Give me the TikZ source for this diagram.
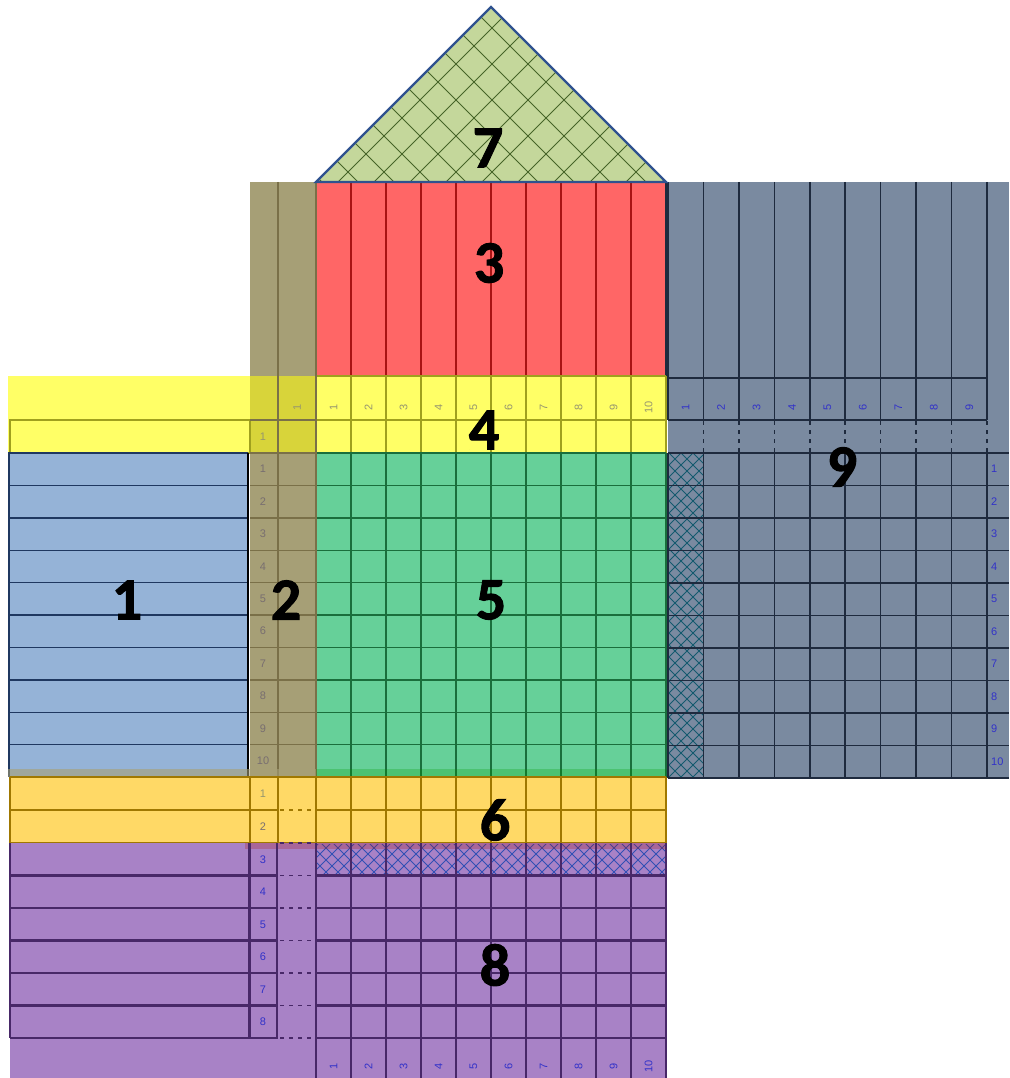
\documentclass[tikz,border=0pt]{standalone}
\usepackage{fontspec}
\setmainfont{Carlito}
\newfontfamily\numfont{Liberation Sans}
\newfontfamily\bigfont{Carlito}[BoldFeatures={FakeBold=1.6}]
\definecolor{rOneFill}{RGB}{149,179,215}
\definecolor{rOneLine}{RGB}{31,56,96}
\definecolor{rTwoFill}{RGB}{166,159,118}
\definecolor{rTwoLine}{RGB}{122,112,72}
\definecolor{rThreeFill}{RGB}{255,102,102}
\definecolor{rThreeLine}{RGB}{168,20,20}
\definecolor{rFourFill}{RGB}{255,255,102}
\definecolor{rFourDark}{RGB}{216,212,58}
\definecolor{rFourLine}{RGB}{160,160,30}
\definecolor{rFiveFill}{RGB}{102,208,153}
\definecolor{rFiveLine}{RGB}{26,110,60}
\definecolor{rSixFill}{RGB}{255,217,102}
\definecolor{rSixLine}{RGB}{160,120,0}
\definecolor{rSevenFill}{RGB}{196,215,155}
\definecolor{rSevenLine}{RGB}{47,82,143}
\definecolor{rSevenHatch}{RGB}{70,100,40}
\definecolor{rEightFill}{RGB}{168,130,198}
\definecolor{rEightLine}{RGB}{72,40,104}
\definecolor{rEightHatch}{RGB}{50,80,180}
\definecolor{rNineFill}{RGB}{122,138,160}
\definecolor{rNineLine}{RGB}{30,42,62}
\definecolor{rNineHatch}{RGB}{20,90,110}
\definecolor{numBlue}{RGB}{50,50,200}
\definecolor{numGray}{RGB}{150,150,110}
\definecolor{numGrayB}{RGB}{120,110,112}
\tikzset{
  biglabel/.style={font=\bigfont\fontsize{60}{60}\selectfont\bfseries, text=black, inner sep=0pt},
  smallnum/.style={font=\numfont\fontsize{11}{11}\selectfont, inner sep=0pt},
  ln1/.style={draw=rOneLine, line width=1.4pt},
  ln2/.style={draw=rTwoLine, line width=1.4pt},
  ln3/.style={draw=rThreeLine, line width=1.4pt},
  ln4/.style={draw=rFourLine, line width=1.4pt},
  ln5/.style={draw=rFiveLine, line width=1.4pt},
  ln6/.style={draw=rSixLine, line width=2pt},
  ln8/.style={draw=rEightLine, line width=2.2pt},
  ln9/.style={draw=rNineLine, line width=1.5pt},
  dashline/.style={dash pattern=on 4pt off 5pt},
}
\begin{document}
\begin{tikzpicture}[x=1pt,y=-1pt]
\useasboundingbox (0,0) rectangle (1009,1078);

% ---------- region 9 ----------
\fill[rNineFill] (668,182) rectangle (1009,778);
\begin{scope}
  \clip (668,453) rectangle (703.4,778);
  \foreach \c in {-120,-108,...,264} \draw[rNineHatch, line width=0.9pt] ({\c+440},440) -- ({\c+790},790);
  \foreach \c in {1110,1122,...,1494} \draw[rNineHatch, line width=0.9pt] ({\c-440},440) -- ({\c-790},790);
\end{scope}
\foreach \i in {0,...,9} \draw[ln9] ({668+35.44*\i},182) -- ({668+35.44*\i},420);
\draw[ln9] (668,378) -- (987,378);
\draw[ln9] (668,420) -- (987,420);
\foreach \i in {1,...,9} \draw[ln9, dashline] ({668+35.44*\i},421) -- ({668+35.44*\i},453);
\foreach \i in {0,...,10} \draw[ln9] (668,{453+32.5*\i}) -- (1009,{453+32.5*\i});
\foreach \i in {0,...,9} \draw[ln9] ({668+35.44*\i},453) -- ({668+35.44*\i},778);
\foreach \i in {1,...,9} \node[smallnum, text=numBlue, rotate=90] (n9h\i) at ({685.7+35.44*(\i-1)},407) {\i};
\foreach \i in {1,...,10} \node[smallnum, text=numBlue, anchor=west] (n9r\i) at (991,{469.2+32.5*(\i-1)}) {\i};

% ---------- region 3 ----------
\fill[rThreeFill] (316,182) rectangle (666,376);
\foreach \i in {0,...,9} \draw[ln3] ({316+35*\i},182) -- ({316+35*\i},376);
\draw[rNineLine, line width=1.5pt] (666,182) -- (666,376);

% ---------- region 2 (column) ----------
\fill[rTwoFill] (250,182) rectangle (316,777);

% ---------- region 4 ----------
\fill[rFourFill] (8,376) rectangle (250,453);
\fill[rFourDark] (250,376) rectangle (316,453);
\fill[rFourFill] (316,376) rectangle (666,453);
\draw[ln4] (10,420) rectangle (250,453);
\foreach \y in {376,420,453} \draw[ln4] (316,\y) -- (666,\y);
\foreach \i in {0,...,10} \draw[ln4] ({316+35*\i},376) -- ({316+35*\i},453);
\foreach \i in {1,...,10} \node[smallnum, text=numGray, rotate=90] (n4h\i) at ({333.5+35*(\i-1)},407) {\i};

% ---------- region 1 ----------
\fill[rOneFill] (8,453) rectangle (248,777);
\foreach \i in {1,...,9} \draw[ln1] (8,{453+32.4*\i}) -- (248,{453+32.4*\i});
\draw[ln1] (9,453) -- (9,777);
\draw[ln1] (8,453) -- (248,453);
\draw[black, line width=1.5pt] (248,453) -- (248,777);

% ---------- region 5 ----------
\fill[rFiveFill] (316,453) rectangle (666,777);
\foreach \i in {0,...,10} \draw[ln5] (316,{453+32.4*\i}) -- (666,{453+32.4*\i});
\foreach \i in {0,...,10} \draw[ln5] ({316+35*\i},453) -- ({316+35*\i},777);

% ---------- region 2 lines ----------
\draw[ln2] (278,182) -- (278,777);
\draw[ln2] (316,182) -- (316,777);
\draw[ln2] (250,420) -- (316,420);
\foreach \i in {0,...,9} \draw[ln2] (250,{453+32.4*\i}) -- (316,{453+32.4*\i});
\foreach \i in {1,...,10} \node[smallnum, text=numGrayB] (n2r\i) at (263,{469.2+32.4*(\i-1)}) {\i};
\node[smallnum, text=numGray, rotate=90] (n2h) at (297,407) {1};
\node[smallnum, text=numGray] (n2a) at (263,437) {1};
\fill[rTwoFill, opacity=0.6] (8,769) rectangle (316,777);
\fill[green!60!black, opacity=0.25] (316,769) rectangle (666,777);

% ---------- region 6 ----------
\fill[rSixFill] (10,777) rectangle (666,843);
\draw[ln6] (10,777) -- (666,777);
\draw[ln6] (10,810) -- (278,810);
\draw[ln6] (316,810) -- (666,810);
\draw[ln6, dashline] (280,810) -- (316,810);
\draw[ln6] (10,843) -- (666,843);
\foreach \x in {10,250,278} \draw[ln6] (\x,777) -- (\x,843);
\foreach \i in {0,...,10} \draw[ln6] ({316+35*\i},777) -- ({316+35*\i},843);
\node[smallnum, text=numGray] (n6a) at (263,794) {1};
\node[smallnum, text=numGrayB] (n6b) at (263,827) {2};

% ---------- region 8 ----------
\fill[rEightFill] (10,843) rectangle (666,1078);
\begin{scope}
  \clip (316,844) rectangle (666,876);
  \foreach \c in {-570,-558,...,-160} \draw[rEightHatch, line width=0.9pt] ({\c+830},830) -- ({\c+890},890);
  \foreach \c in {1150,1162,...,1560} \draw[rEightHatch, line width=0.9pt] ({\c-830},830) -- ({\c-890},890);
\end{scope}
\fill[rThreeLine, opacity=0.25] (245,843) rectangle (666,849);
\foreach \i in {1,...,6} {
  \draw[ln8] (10,{843+32.5*\i}) -- (278,{843+32.5*\i});
  \draw[ln8] (316,{843+32.5*\i}) -- (666,{843+32.5*\i});
}
\foreach \i in {0,...,6} \draw[ln8, line width=1.5pt, dashline] (280,{843+32.5*\i}) -- (316,{843+32.5*\i});
\draw[ln8] (10,843) -- (10,1038);
\draw[ln8, line width=3pt] (249,843) -- (249,1038);
\draw[ln8, line width=1.5pt] (277,843) -- (277,1038);
\foreach \i in {0,...,10} \draw[ln8] ({316+35*\i},843) -- ({316+35*\i},1078);
\foreach \i/\n in {0/3,1/4,2/5,3/6,4/7,5/8} \node[smallnum, text=numBlue] (n8r\n) at (263,{859.5+32.5*\i}) {\n};
\foreach \i in {1,...,10} \node[smallnum, text=numBlue, rotate=90] (n8b\i) at ({333.5+35*(\i-1)},1066) {\i};

% ---------- region 7 (roof) ----------
\fill[rSevenFill] (491,7) -- (666,182) -- (316,182) -- cycle;
\begin{scope}
  \clip (491,7) -- (666,182) -- (316,182) -- cycle;
  \foreach \c in {104,140,...,716} \draw[rSevenHatch, line width=0.8pt] (\c,0) -- ({\c+200},200);
  \foreach \c in {304,340,...,916} \draw[rSevenHatch, line width=0.8pt] (\c,0) -- ({\c-200},200);
\end{scope}
\draw[rSevenLine, line width=2.2pt, line join=miter] (491,7) -- (666,182) -- (316,182) -- cycle;

% ---------- big labels ----------
\node[biglabel] (l7) at (488,148) {7};
\node[biglabel] (l3) at (489,263) {3};
\node[biglabel] (l4) at (484,430) {4};
\node[biglabel] (l9) at (842,467) {9};
\node[biglabel] (l1) at (127,600) {1};
\node[biglabel] (l2) at (286,600) {2};
\node[biglabel] (l5) at (491,600) {5};
\node[biglabel] (l6) at (495,820) {6};
\node[biglabel] (l8) at (495,965) {8};
\end{tikzpicture}
\end{document}
